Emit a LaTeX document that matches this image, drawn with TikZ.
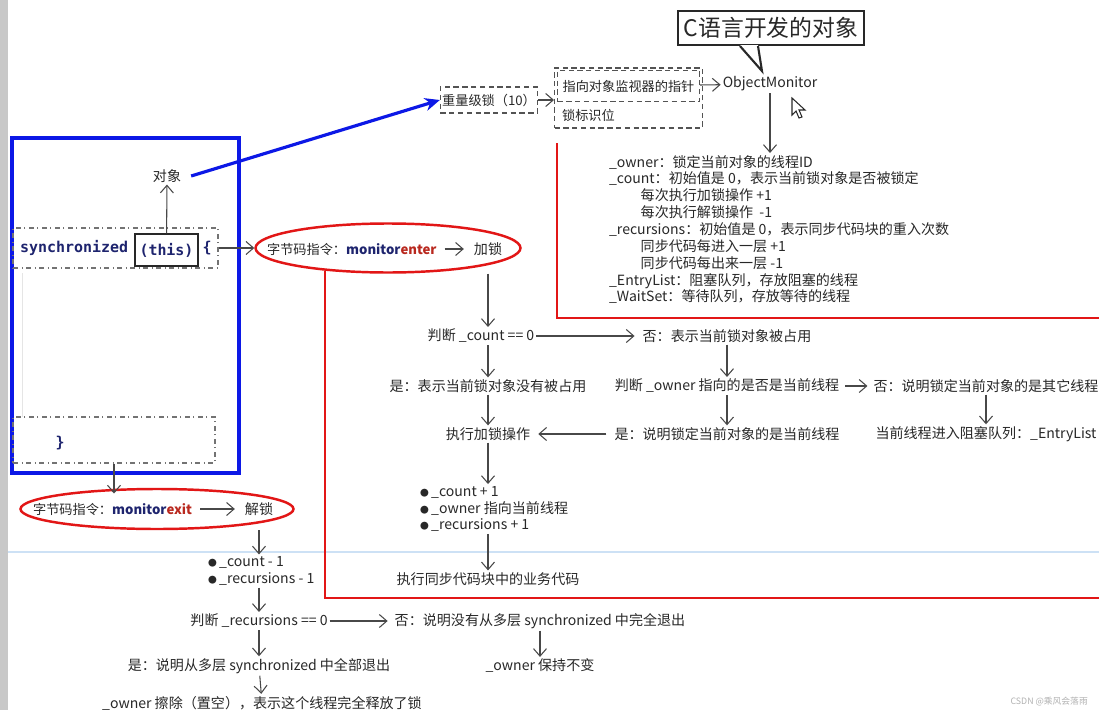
\documentclass[tikz,border=0pt]{standalone}
\usepackage{fontspec}
\setmainfont{Noto Sans CJK SC}
\newfontfamily\codefont{DejaVu Sans Mono}
\usepackage{tikz}
\usetikzlibrary{shapes.geometric, arrows.meta, positioning, calc}
\definecolor{cText}{RGB}{40,40,40}
\definecolor{cRed}{RGB}{226,22,22}
\definecolor{cBlue}{RGB}{12,24,230}
\definecolor{cNavy}{RGB}{30,36,110}
\definecolor{cDark}{RGB}{185,40,30}
\definecolor{cLine}{RGB}{205,225,245}
\definecolor{cStrip}{RGB}{200,200,200}
\newcommand{\dotmark}{{\fontsize{5}{5}\selectfont ●}\,}
\tikzset{
	txt/.style   ={inner sep=1pt, text=cText, font=\fontsize{8}{9.6}\selectfont},
	small/.style ={inner sep=1pt, text=cText, font=\fontsize{7.5}{9}\selectfont},
	code/.style  ={inner sep=1pt, text=cNavy, font=\codefont\bfseries\fontsize{8.5}{10}\selectfont},
	flow/.style  ={-{Straight Barb[length=1.5mm, width=2.6mm]}, draw=cText!85, line width=0.6pt},
	dbox/.style  ={draw=cText!80, densely dashed, line width=0.6pt},
	ddbox/.style ={draw=cText!65, dash dot, line width=0.6pt},
	oval/.style  ={ellipse, draw=cRed, line width=1.4pt, inner sep=0pt},
	redmark/.style={draw=cRed, line width=1.6pt},
}

\begin{document}
\begin{tikzpicture}[x=0.02cm, y=-0.02cm]
	\useasboundingbox (0,0) rectangle (1099,710);
	\fill[white] (0,0) rectangle (1099,710);
	\fill[cStrip] (0,0) rectangle (8,710);
	\draw[cLine, line width=1pt] (8,552) -- (1099,552);
	% code block
	\node[draw=cBlue, line width=1.8pt, minimum width=4.54cm, minimum height=6.7cm] (blk) at (125.5,305.5) {};
	\draw[black!10] (22,273) -- (22,417);
	\node[ddbox, minimum width=4.1cm, minimum height=0.8cm] (syncline) at (115.5,248) {};
	\node[code, anchor=west] (sync) at (18,248) {synchronized};
	\node[code, draw=cText, line width=0.8pt, minimum width=1.26cm, minimum height=0.64cm] (this) at (166.5,250) {(this)};
	\node[code] (lbrace) at (207,248) {\{};
	\node[txt] (obj) at (167,176) {对象};
	\node[ddbox, minimum width=4.04cm, minimum height=0.92cm] (closeline) at (114,440) {};
	\node[code] (rbrace) at (60,443) {\}};
	\draw[flow] (this) -- (obj);
	% lock word
	\node[small, dbox, minimum width=1.88cm, minimum height=0.52cm] (heavy) at (489,100) {重量级锁（10）};
	\node[dbox, minimum width=2.96cm, minimum height=1.2cm] (markword) at (628.5,98) {};
	\node[small, dbox, anchor=north west, minimum width=2.84cm, minimum height=0.62cm] (ptr) at (557,70) {指向对象监视器的指针};
	\node[small, anchor=west] (flag) at (560,115) {锁标识位};
	\node[txt] (om) at (770,84) {ObjectMonitor};
	\draw[cBlue, line width=1.8pt, -{Stealth[length=3mm, width=2.6mm]}] ($(obj.east)+(8,0)$) -- (heavy.west);
	\draw[flow] (heavy.east) -- (heavy.east -| markword.west);
	\draw[flow] (ptr) -- (om);
	% callout
	\node[draw=cText, line width=1.2pt, fill=white, minimum width=3.66cm, minimum height=0.68cm, text=cText, font=\fontsize{13}{15}\selectfont] (cnote) at (771,28) {C语言开发的对象};
	\fill[white] ($(cnote.south)+(-31,-1)$) -- ($(cnote.south)+(-9,25)$) -- ($(cnote.south)+(-13,-1)$) -- cycle;
	\draw[cText, line width=1.2pt] ($(cnote.south)+(-31,0)$) -- ($(cnote.south)+(-9,25)$) -- ($(cnote.south)+(-13,0)$);
	\draw[fill=white, draw=cText, line width=0.6pt] (792,98) -- (792,115) -- (796,111) -- (799,118) -- (802,117) -- (799,110) -- (805,110) -- cycle;
	\node[txt, anchor=north west, align=left] (fields) at (607,153) {\_owner：锁定当前对象的线程ID\\
		\_count：初始值是 0，表示当前锁对象是否被锁定\\
		\hspace*{18pt}每次执行加锁操作 +1\\
		\hspace*{18pt}每次执行解锁操作 \ -1\\
		\_recursions：初始值是 0，表示同步代码块的重入次数\\
		\hspace*{18pt}同步代码每进入一层 +1\\
		\hspace*{18pt}同步代码每出来一层 -1\\
		\_EntryList：阻塞队列，存放阻塞的线程\\
		\_WaitSet：等待队列，存放等待的线程};
	\draw[flow] (om.south) -- (om.south |- fields.north);
	% monitorenter
	\node[oval, minimum width=5.3cm, minimum height=0.98cm] (enter) at (388,248) {};
	\node[small, anchor=west] (entercmd) at (265,249) {字节码指令：\textbf{\textcolor{cNavy}{monitor}\textcolor{cDark}{enter}}};
	\node[txt] (lock) at (488,249) {加锁};
	\draw[flow] ($(entercmd.east)+(6,0)$) -- ($(lock.west)+(-8,0)$);
	\draw[flow] (syncline.east) -- (enter.west);
	\draw[redmark] (557,143) -- (557,318) -- (1099,318);
	\draw[redmark] (325,271) -- (325,598) -- (1099,598);
	\node[txt] (cnt0) at (481,336) {判断 \_count == 0};
	\node[txt] (busy) at (727,336) {否：表示当前锁对象被占用};
	\node[txt] (free) at (488,386) {是：表示当前锁对象没有被占用};
	\node[txt] (ownchk) at (727,386) {判断 \_owner 指向的是否是当前线程};
	\node[txt] (other) at (986,386) {否：说明锁定当前对象的是其它线程};
	\node[txt] (block) at (986,434) {当前线程进入阻塞队列：\_EntryList};
	\node[txt] (self) at (727,434) {是：说明锁定当前对象的是当前线程};
	\node[txt] (dolock) at (488,434) {执行加锁操作};
	\node[txt, anchor=west, align=left] (incr) at (418,509) {\dotmark\_count + 1\\ \dotmark\_owner 指向当前线程\\ \dotmark\_recursions + 1};
	\node[txt] (run) at (488,579) {执行同步代码块中的业务代码};
	\draw[flow] (lock.south |- enter.south) -- (lock.south |- cnt0.north);
	\draw[flow] (cnt0.east) -- ++(7,0) -- ($(busy.west)+(-6,0)$);
	\draw[flow] (free.north |- cnt0.south) -- (free.north);
	\draw[flow] (busy) -- (ownchk);
	\draw[flow] ($(ownchk.east)+(4,0)$) -- ($(other.west)+(-4,0)$);
	\draw[flow] (other) -- (block);
	\draw[flow] (ownchk) -- (self);
	\draw[flow] ($(self.west)+(-6,0)$) -- ($(dolock.east)+(6,0)$);
	\draw[flow] (free) -- (dolock);
	\draw[flow] (dolock) -- (dolock |- incr.north);
	\draw[flow] (run.north |- incr.south) -- (run);
	% monitorexit
	\node[oval, minimum width=5.46cm, minimum height=0.8cm] (exit) at (157,509) {};
	\node[small, anchor=west] (exitcmd) at (31,509) {字节码指令：\textbf{\textcolor{cNavy}{monitor}\textcolor{cDark}{exit}}};
	\node[txt] (unlock) at (259,509) {解锁};
	\draw[flow] ($(exitcmd.east)+(6,0)$) -- ($(unlock.west)+(-8,0)$);
	\draw[flow] (closeline.south) -- ++(0,30);
	\node[txt, anchor=west, align=left] (decr) at (206,571) {\dotmark\_count - 1\\ \dotmark\_recursions - 1};
	\node[txt] (rec0) at (259,621) {判断 \_recursions == 0};
	\node[txt] (notall) at (540,621) {否：说明没有从多层 synchronized 中完全退出};
	\node[txt] (keep) at (540,666) {\_owner 保持不变};
	\node[txt] (allout) at (259,666) {是：说明从多层 synchronized 中全部退出};
	\node[txt] (clear) at (262,703) {\_owner 擦除（置空），表示这个线程完全释放了锁};
	\draw[flow] (unlock.south |- exit.south) -- (unlock.south |- decr.north);
	\draw[flow] (rec0.north |- decr.south) -- (rec0);
	\draw[flow] (rec0.east) -- ++(5,0) -- ($(notall.west)+(-5,0)$);
	\draw[flow] (notall) -- (keep);
	\draw[flow] (rec0) -- (allout);
	\draw[flow] (allout) -- (clear);
	\node[text=black!30, font=\fontsize{5}{6}\selectfont, anchor=east] (wm) at (1094,702) {CSDN @乘风会落雨};
\end{tikzpicture}
\end{document}
